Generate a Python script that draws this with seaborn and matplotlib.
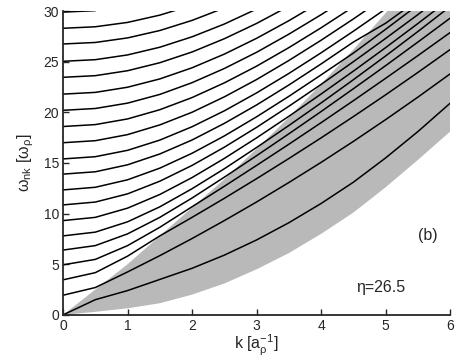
import numpy as np
import pandas as pd
import seaborn as sns
import matplotlib.pyplot as plt

k = [0, 0.5, 1, 1.5, 2, 2.5, 3, 3.5, 4, 4.5, 5, 5.5, 6]

# mode frequencies omega_nk, one list per branch (read until it leaves the frame)
mode_0 = [0, 1.5, 2.4, 3.5, 4.6, 5.9, 7.4, 9.1, 11.0, 13.1, 15.5, 18.1, 20.9]
mode_1 = [1.94, 2.7, 4.24, 5.85, 7.54, 9.31, 11.15, 13.07, 15.06, 17.13, 19.28, 21.5, 23.8]
mode_2 = [3.46, 4.17, 5.8, 7.8, 9.63, 11.51, 13.45, 15.44, 17.48, 19.58, 21.73, 23.94, 26.2]
mode_3 = [4.94, 5.48, 6.84, 8.65, 10.68, 12.7, 14.76, 16.85, 18.98, 21.15, 23.36, 25.6, 27.88]
mode_4 = [6.4, 6.84, 8.0, 9.63, 11.54, 13.6, 15.72, 17.88, 20.08, 22.33, 24.61, 26.94, 29.3]
mode_5 = [7.8, 8.17, 9.19, 10.67, 12.46, 14.43, 16.53, 18.7, 20.93, 23.22, 25.57, 27.98, 30.45]
mode_6 = [9.31, 9.63, 10.54, 11.89, 13.56, 15.45, 17.48, 19.61, 21.81, 24.07, 26.39, 28.77, 31.21]
mode_7 = [10.86, 11.14, 11.95, 13.2, 14.76, 16.56, 18.52, 20.6, 22.76, 25.0, 27.3, 29.65, 32.1]
mode_8 = [12.34, 12.6, 13.34, 14.49, 15.96, 17.67, 19.56, 21.58, 23.7, 25.85, 28.2, 30.6]
mode_9 = [13.9, 14.13, 14.82, 15.89, 17.27, 18.91, 20.73, 22.7, 24.78, 26.94, 28.8, 31.1]
mode_10 = [15.4, 15.62, 16.25, 17.26, 18.58, 20.15, 21.92, 23.84, 25.88, 28.01, 30.22]
mode_11 = [17.0, 17.2, 17.8, 18.76, 20.01, 21.53, 23.24, 25.12, 27.12, 29.22, 31.41]
mode_12 = [18.6, 18.79, 19.35, 20.26, 21.46, 22.91, 24.56, 26.39, 28.35, 30.42]
mode_13 = [20.2, 20.38, 20.91, 21.77, 22.93, 24.33, 25.93, 27.72, 29.64, 31.68]
mode_14 = [21.8, 21.97, 22.48, 23.3, 24.4, 25.75, 27.31, 29.05, 30.93]
mode_15 = [23.46, 23.62, 24.11, 24.9, 25.96, 27.27, 28.78, 30.48]
mode_16 = [25.04, 25.2, 25.67, 26.43, 27.46, 28.72, 30.2]
mode_17 = [26.75, 26.9, 27.35, 28.08, 29.08, 30.31]
mode_18 = [28.3, 28.45, 28.88, 29.6, 30.57]
mode_19 = [29.9, 30.04]

# edges of the grey continuum
band_low = [0, 0.3, 0.65, 1.15, 2.0, 3.1, 4.5, 6.1, 8.0, 10.1, 12.6, 15.3, 18.1]
band_high = [0, 2.5, 5.0, 7.8, 10.6, 13.4, 16.4, 19.5, 22.8, 26.2, 29.8, 33.5, 37.3]

modes = [mode_0, mode_1, mode_2, mode_3, mode_4, mode_5, mode_6, mode_7, mode_8, mode_9,
         mode_10, mode_11, mode_12, mode_13, mode_14, mode_15, mode_16, mode_17, mode_18, mode_19]

rows = []
for n, vals in enumerate(modes):
    for kk, w in zip(k, vals):
        rows.append({"k": kk, "omega": w, "n": n})
df = pd.DataFrame(rows)

sns.set_style("ticks")
plt.rcParams["font.family"] = ["Liberation Sans", "DejaVu Sans"]
plt.rcParams["mathtext.fontset"] = "custom"
plt.rcParams["mathtext.rm"] = "Liberation Sans"
plt.rcParams["mathtext.it"] = "Liberation Sans"

fig = plt.figure(figsize=(4.57, 3.57), dpi=100)
ax = fig.add_axes([0.138, 0.118, 0.847, 0.851])

ax.fill_between(k, band_low, band_high, color="#b9b9b9", linewidth=0, zorder=1)
sns.lineplot(data=df, x="k", y="omega", units="n", estimator=None, color="black",
             linewidth=1.1, ax=ax, zorder=2)

ax.set_xlim(0, 6)
ax.set_ylim(0, 30)
ax.set_xticks(range(0, 7))
ax.set_yticks(range(0, 31, 5))
ax.tick_params(direction="in", length=4, width=1, labelsize=10, pad=3)
for side in ["top", "right"]:
    ax.spines[side].set_visible(False)
for side in ["left", "bottom"]:
    ax.spines[side].set_linewidth(1.3)

ax.set_xlabel(r"$\mathrm{k\ [a_\rho^{-1}]}$", fontsize=11.5, labelpad=0)
ax.set_ylabel(r"$\mathrm{\omega_{nk}\ [\omega_\rho]}$", fontsize=11.5, labelpad=5)

ax.text(5.66, 7.8, "(b)", fontsize=11.5, ha="center", va="center")
ax.text(4.92, 2.7, "η=26.5", fontsize=11.5, ha="center", va="center")

fig.savefig("out.png", dpi=100)
